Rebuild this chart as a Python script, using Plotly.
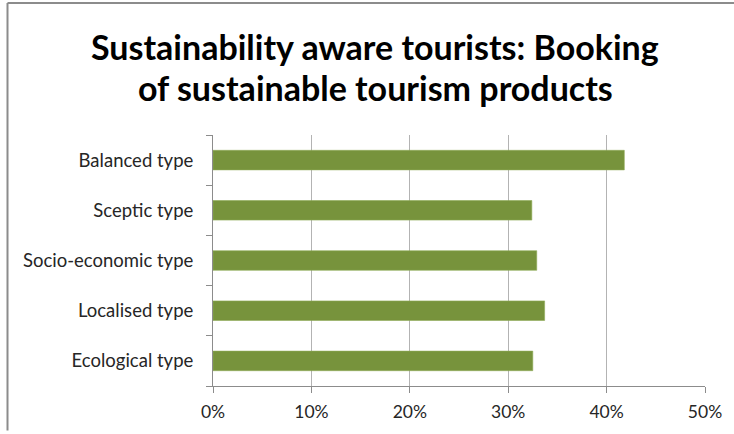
import plotly.graph_objects as go

# Share of sustainability-aware tourists booking sustainable tourism products
categories = ["Ecological type", "Localised type", "Socio-economic type", "Sceptic type", "Balanced type"]
shares = [0.325, 0.337, 0.329, 0.324, 0.418]
x_ticks = [0, 0.1, 0.2, 0.3, 0.4, 0.5]
x_tick_labels = ["0%", "10%", "20%", "30%", "40%", "50%"]
title_lines = ["Sustainability aware tourists: Booking", "of sustainable tourism products"]

W, H = 734, 434
L, R, T, B = 213, 29, 135, 45
pw, ph = W - L - R, H - T - B

def px_to_paper_x(px):
    return (px - L) / pw

def px_to_paper_y(py):
    return (H - B - py) / ph

fig = go.Figure(
    go.Bar(
        x=shares,
        y=categories,
        orientation="h",
        marker=dict(color="#77933C", line=dict(color="#8fab58", width=0.6)),
        width=0.39,
        hoverinfo="skip",
    )
)

fig.update_layout(
    width=W,
    height=H,
    margin=dict(l=L, r=R, t=T, b=B),
    paper_bgcolor="white",
    plot_bgcolor="white",
    showlegend=False,
    font=dict(family="Lato", color="#262626"),
    bargap=0.6,
)

# Two-line bold title
for line_text, cy in zip(title_lines, [45, 87]):
    fig.add_annotation(
        text=f"<b>{line_text}</b>",
        xref="paper",
        yref="paper",
        x=px_to_paper_x(375),
        y=px_to_paper_y(cy),
        xanchor="center",
        yanchor="middle",
        showarrow=False,
        font=dict(family="Lato", size=34, color="black"),
    )

fig.update_xaxes(
    range=[0, 0.5],
    tickvals=x_ticks,
    ticktext=x_tick_labels,
    showgrid=True,
    gridcolor="#b3b3b3",
    gridwidth=1,
    showline=True,
    linecolor="#8c8c8c",
    linewidth=1,
    ticks="outside",
    ticklen=6,
    tickcolor="#8c8c8c",
    ticklabelstandoff=4,
    tickfont=dict(family="Lato", size=17.5, color="#262626"),
    zeroline=False,
    fixedrange=True,
)

fig.update_yaxes(
    categoryorder="array",
    categoryarray=categories,
    showline=True,
    linecolor="#8c8c8c",
    linewidth=1,
    ticks="outside",
    tickson="boundaries",
    ticklen=6,
    tickcolor="#8c8c8c",
    ticklabelstandoff=15,
    tickfont=dict(family="Lato", size=18.5, color="#262626"),
    showgrid=False,
    fixedrange=True,
)

# Outer chart frame: top and left edges, kept inside the canvas
frame = dict(type="line", xref="paper", yref="paper", line=dict(color="#8c8c8c", width=2), layer="below")
fig.add_shape(**frame, x0=px_to_paper_x(7.5), x1=px_to_paper_x(W),
              y0=px_to_paper_y(1.5), y1=px_to_paper_y(1.5))
fig.add_shape(**frame, x0=px_to_paper_x(7.5), x1=px_to_paper_x(7.5),
              y0=px_to_paper_y(1.5), y1=px_to_paper_y(H))

fig.write_html("out.html", config={"displayModeBar": False})
